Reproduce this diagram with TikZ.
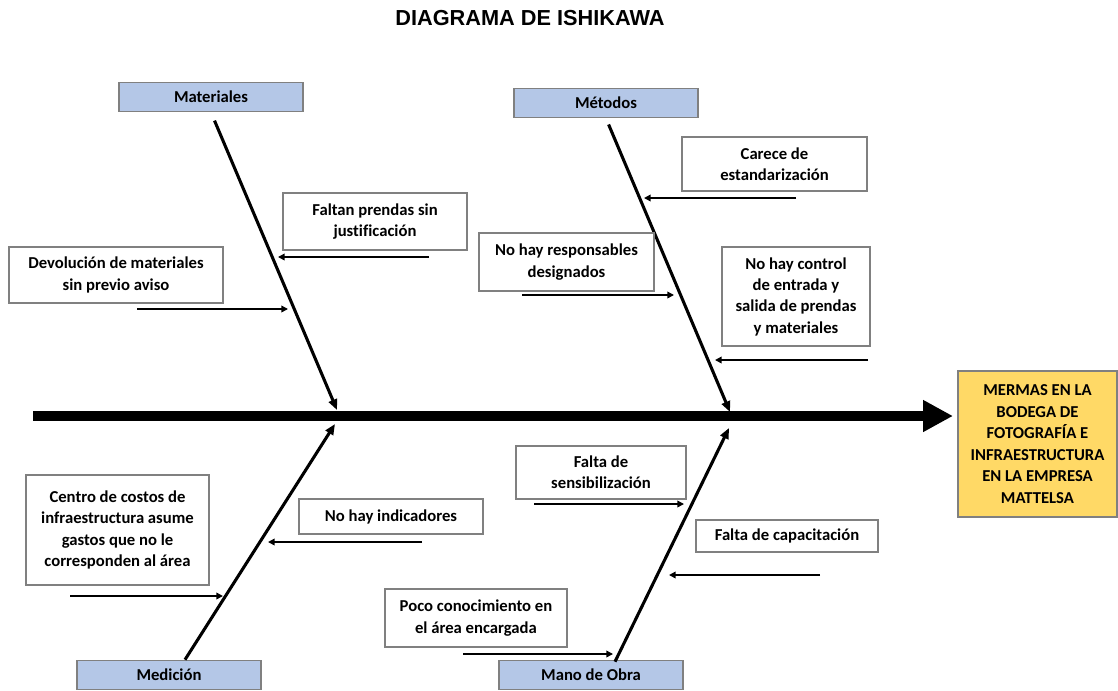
\documentclass[tikz,border=0pt]{standalone}
\usepackage{fontspec}
\setmainfont{Carlito}[Ligatures=CommonOff]
\newfontfamily\titlefont{Liberation Sans}
\usepackage{xcolor}
\usetikzlibrary{arrows.meta,positioning}
\definecolor{catblue}{RGB}{180,199,231}
\definecolor{effectgold}{RGB}{255,217,102}
\definecolor{boxgray}{RGB}{128,128,128}

\begin{document}
\begin{tikzpicture}[
    x=0.75pt, y=-0.75pt,
    category/.style={rectangle, draw=boxgray, line width=1pt, fill=catblue, inner sep=0pt, minimum width=138pt, minimum height=22pt, font=\fontsize{12.5pt}{16pt}\selectfont\bfseries},
    cause/.style={rectangle, draw=boxgray, line width=0.9pt, fill=white, inner sep=0pt, align=center, font=\fontsize{12.5pt}{16pt}\selectfont\bfseries},
    effect/.style={rectangle, draw=boxgray, line width=1pt, fill=effectgold, inner sep=0pt, align=center, minimum width=119.25pt, minimum height=109.5pt, font=\fontsize{12.5pt}{16.2pt}\selectfont\bfseries},
    spine/.style={line width=7.5pt, -{Triangle[length=22.5pt, width=22.5pt]}},
    bone/.style={line width=2.3pt, -{Triangle[length=8pt, width=6.5pt]}},
    sub/.style={line width=1.1pt, -{Triangle[length=5pt, width=5pt]}}
]
    \useasboundingbox (0,0) rectangle (1118,690);

    % title
    \node[font=\titlefont\fontsize{16.3pt}{19pt}\selectfont\bfseries] (title) at (530,18) {DIAGRAMA DE ISHIKAWA};

    % effect and spine
    \node[effect] (merma) at (1037.5,444) {MERMAS EN LA\\BODEGA DE\\FOTOGRAFÍA E\\INFRAESTRUCTURA\\EN LA EMPRESA\\MATTELSA};
    \coordinate (tail) at (33,416);
    \coordinate (head) at (953,416);
    \draw[spine] (tail) -- (head);

    % categories
    \node[category] (mat) at (211,97) {Materiales};
    \node[category] (met) at (606,103) {Métodos};
    \node[category] (med) at (169,675) {Medición};
    \node[category] (mano) at (591,675) {Mano de Obra};

    \coordinate (matend) at (337,410);
    \coordinate (metend) at (730,412);
    \coordinate (medend) at (335,424);
    \coordinate (manoend) at (729,428);

    \draw[bone, shorten <=6.75pt] (mat.south) -- (matend);
    \draw[bone, shorten <=5pt] (met.south) -- (metend);
    \draw[bone] ([xshift=12pt]med.north) -- (medend);
    \draw[bone] ([xshift=18pt, yshift=-1.5pt]mano.north) -- (manoend);

    % causes
    \node[cause, minimum width=138pt, minimum height=42.75pt] (falt) at (375,221.5) {Faltan prendas sin\\justificación};
    \node[cause, minimum width=160.5pt, minimum height=42pt] (devo) at (116,275) {Devolución de materiales\\sin previo aviso};
    \node[cause, minimum width=138.75pt, minimum height=40.5pt] (care) at (774.5,164) {Carece de\\estandarización};
    \node[cause, minimum width=131.25pt, minimum height=43.5pt] (resp) at (566.5,262) {No hay responsables\\designados};
    \node[cause, minimum width=111pt, minimum height=74.25pt] (cont) at (796,296.5) {No hay control\\de entrada y\\salida de prendas\\y materiales};
    \node[cause, minimum width=137.25pt, minimum height=82.5pt] (cost) at (117.5,530) {Centro de costos de\\infraestructura asume\\gastos que no le\\corresponden al área};
    \node[cause, minimum width=138pt, minimum height=26.25pt] (indi) at (391,516.5) {No hay indicadores};
    \node[cause, minimum width=127.5pt, minimum height=39.75pt] (sens) at (601,472.5) {Falta de\\sensibilización};
    \node[cause, minimum width=136.5pt, minimum height=24pt] (capa) at (787,536) {Falta de capacitación};
    \node[cause, minimum width=136.5pt, minimum height=43.5pt] (poco) at (476,618) {Poco conocimiento en\\el área encargada};

    % cause arrows
    \coordinate (falt1) at (429,257);  \coordinate (falt2) at (278,257);
    \coordinate (devo1) at (137,309);  \coordinate (devo2) at (288,309);
    \coordinate (care1) at (796,198);  \coordinate (care2) at (644,198);
    \coordinate (resp1) at (522,295);  \coordinate (resp2) at (674,295);
    \coordinate (cont1) at (868,360);  \coordinate (cont2) at (715,360);
    \coordinate (cost1) at (70,596);   \coordinate (cost2) at (223,596);
    \coordinate (indi1) at (422,542);  \coordinate (indi2) at (268,542);
    \coordinate (sens1) at (534,504);  \coordinate (sens2) at (684,504);
    \coordinate (capa1) at (820,575);  \coordinate (capa2) at (669,575);
    \coordinate (poco1) at (463,654);  \coordinate (poco2) at (613,654);

    \draw[sub] (falt1) -- (falt2);
    \draw[sub] (devo1) -- (devo2);
    \draw[sub] (care1) -- (care2);
    \draw[sub] (resp1) -- (resp2);
    \draw[sub] (cont1) -- (cont2);
    \draw[sub] (cost1) -- (cost2);
    \draw[sub] (indi1) -- (indi2);
    \draw[sub] (sens1) -- (sens2);
    \draw[sub] (capa1) -- (capa2);
    \draw[sub] (poco1) -- (poco2);
\end{tikzpicture}
\end{document}
